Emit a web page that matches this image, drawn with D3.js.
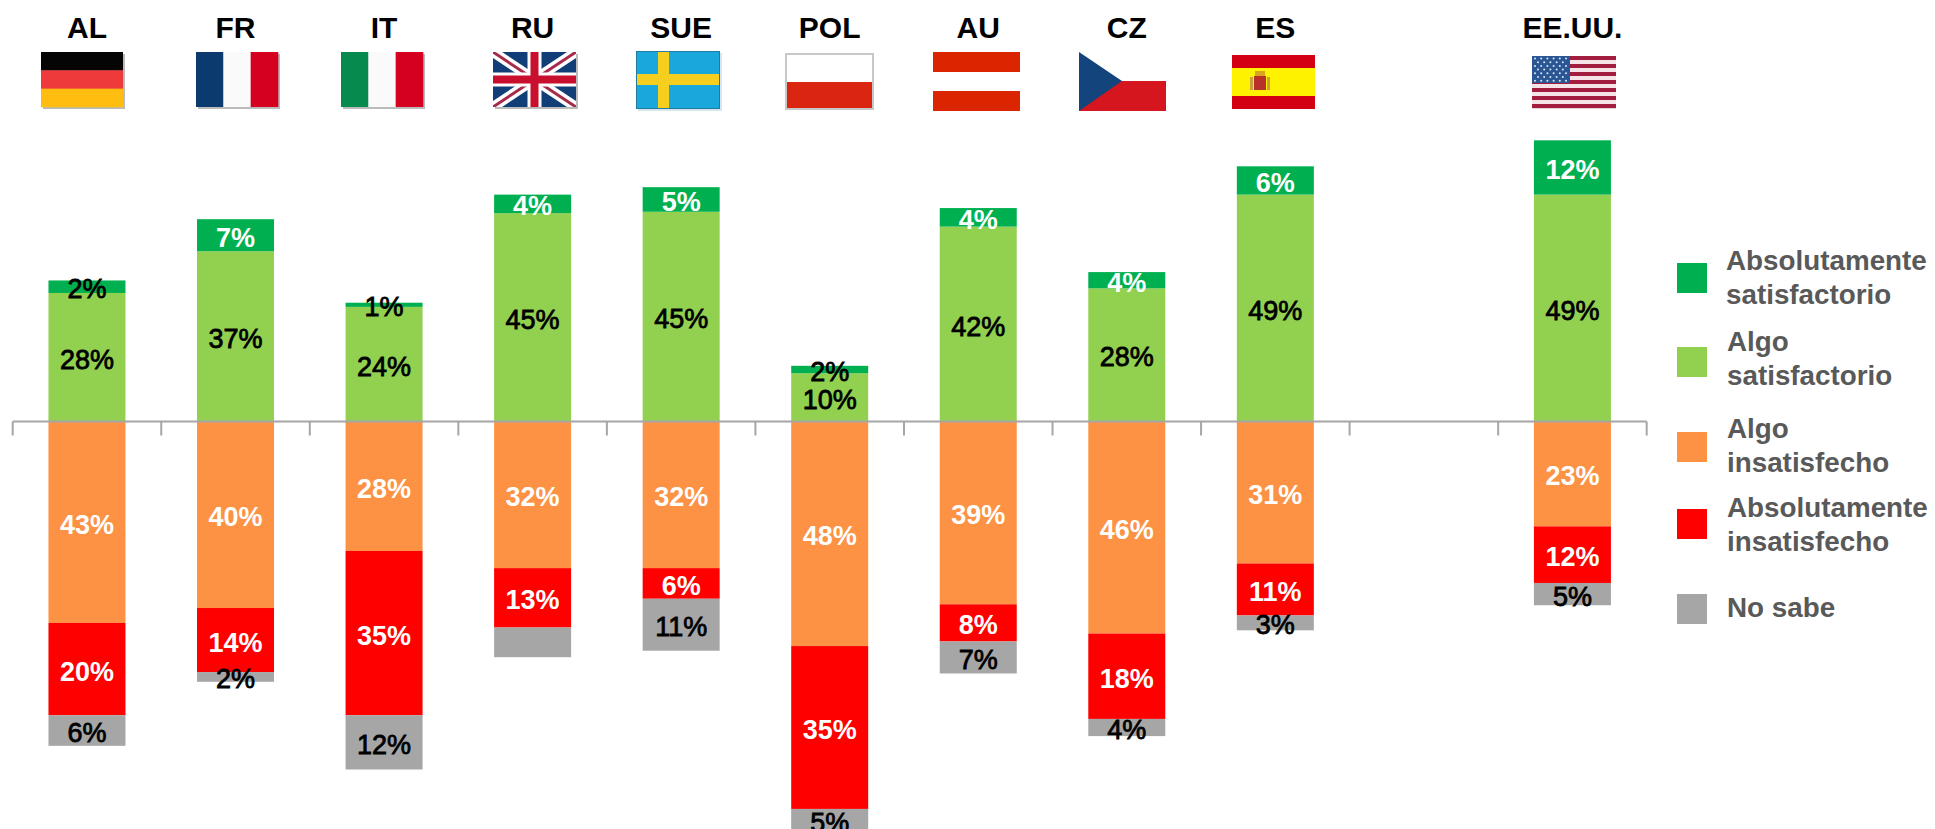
<!DOCTYPE html>
<html><head><meta charset="utf-8">
<script src="https://cdn.jsdelivr.net/npm/d3@7/dist/d3.min.js"></script>
<style>html,body{margin:0;padding:0;background:#fff;overflow:hidden}svg{display:block}text{font-family:"Liberation Sans",Arial,sans-serif}</style>
</head><body><svg id="c" width="1935" height="829"></svg>
<script>
const categories = ["AL","FR","IT","RU","SUE","POL","AU","CZ","ES","","EE.UU."];
const algoSatisfactorio   = [27.7,36.7,24.7,44.9,45.2,10.4,42.0,28.7,48.9,0,48.9];
const absSatisfactorio    = [2.7,6.9,0.9,4.0,5.3,1.6,4.0,3.5,6.1,0,11.7];
const algoInsatisfecho    = [43.4,40.2,27.9,31.6,31.6,48.4,39.4,45.7,30.6,0,22.6];
const absInsatisfecho     = [19.9,13.8,35.4,12.8,6.6,35.1,8.0,18.4,11.2,0,12.2];
const noSabe              = [6.6,2.1,11.7,6.4,11.2,5,6.9,3.7,3.2,0,4.8];
const lblAlgoSat = ["28%","37%","24%","45%","45%","10%","42%","28%","49%",null,"49%"];
const lblAbsSat  = ["2%","7%","1%","4%","5%","2%","4%","4%","6%",null,"12%"];
const lblAlgoIns = ["43%","40%","28%","32%","32%","48%","39%","46%","31%",null,"23%"];
const lblAbsIns  = ["20%","14%","35%","13%","6%","35%","8%","18%","11%",null,"12%"];
const lblNoSabe  = ["6%","2%","12%",null,"11%","5%","7%","4%","3%",null,"5%"];
const legendLabels = [["Absolutamente","satisfactorio"],["Algo","satisfactorio"],["Algo","insatisfecho"],["Absolutamente","insatisfecho"],["No sabe"]];

const svg = d3.select("#c");
const x = d3.scaleBand().domain(d3.range(categories.length)).range([12.7,1646.7]);
const y = d3.scaleLinear().domain([0,100]).range([421.5,-42.5]);

const seriesDefs = [
  {key:"as", vals:algoSatisfactorio, labels:lblAlgoSat, fill:"#92D050", lab:()=>"#000"},
  {key:"bs", vals:absSatisfactorio,  labels:lblAbsSat,  fill:"#00B050", lab:(i)=>[0,2,5].includes(i)?"#000":"#fff"},
  {key:"ai", vals:algoInsatisfecho.map(v=>-v), labels:lblAlgoIns, fill:"#FD9244", lab:()=>"#fff"},
  {key:"bi", vals:absInsatisfecho.map(v=>-v),  labels:lblAbsIns,  fill:"#FF0000", lab:()=>"#fff"},
  {key:"ns", vals:noSabe.map(v=>-v), labels:lblNoSabe, fill:"#A6A6A6", lab:()=>"#000"}
];
const table = categories.map((c,i)=>{const r={i};seriesDefs.forEach(s=>r[s.key]=s.vals[i]);return r;});
const stacked = d3.stack().keys(seriesDefs.map(s=>s.key)).offset(d3.stackOffsetDiverging)(table);
const barW = 77;

stacked.forEach((layer,si)=>{
  const def = seriesDefs[si];
  svg.append("g").selectAll("rect").data(layer.filter(d=>d[1]!==d[0])).join("rect")
    .attr("x",d=>x(d.data.i)+x.bandwidth()/2-barW/2)
    .attr("width",barW)
    .attr("y",d=>y(Math.max(d[0],d[1])))
    .attr("height",d=>Math.abs(y(d[0])-y(d[1])))
    .attr("fill",def.fill);
});

// axis
const axis = svg.append("g").attr("stroke","#A6A6A6").attr("stroke-width",2);
axis.append("line").attr("x1",x.range()[0]).attr("x2",x.range()[1]).attr("y1",y(0)).attr("y2",y(0));
axis.selectAll("line.t").data(d3.range(categories.length+1)).join("line").attr("class","t")
  .attr("x1",i=>x.range()[0]+i*x.bandwidth()).attr("x2",i=>x.range()[0]+i*x.bandwidth())
  .attr("y1",y(0)).attr("y2",y(0)+14);

// labels
stacked.forEach((layer,si)=>{
  const def = seriesDefs[si];
  svg.append("g").selectAll("text").data(layer.filter(d=>def.labels[d.data.i])).join("text")
    .attr("x",d=>x(d.data.i)+x.bandwidth()/2)
    .attr("y",d=>y((d[0]+d[1])/2)+11.5)
    .attr("text-anchor","middle")
    .attr("font-size",27)
    .attr("font-weight",(d)=>def.lab(d.data.i)==="#fff"?"bold":"normal")
    .attr("fill",d=>def.lab(d.data.i))
    .attr("stroke",d=>def.lab(d.data.i)==="#000"?"#000":"none")
    .attr("stroke-width",0.8)
    .text(d=>def.labels[d.data.i]);
});

// category titles
svg.append("g").selectAll("text").data(categories.map((c,i)=>({c,i})).filter(d=>d.c)).join("text")
  .attr("x",d=>x(d.i)+x.bandwidth()/2).attr("y",37.5)
  .attr("text-anchor","middle").attr("font-size",30).attr("font-weight","bold").attr("fill","#000")
  .text(d=>d.c);

// legend
const legendFills = ["#00B050","#92D050","#FD9244","#FF0000","#A6A6A6"];
const legendBoxY = [263,347,432,509,594];
const legendBase = [[270,304],[351,385],[438,472],[517,551],[617]];
const legendX = [1726,1727,1727,1727,1727];
legendLabels.forEach((lines,i)=>{
  svg.append("rect").attr("x",1677).attr("y",legendBoxY[i]).attr("width",30).attr("height",30).attr("fill",legendFills[i]);
  lines.forEach((t,j)=>svg.append("text").attr("x",legendX[i]).attr("y",legendBase[i][j])
    .attr("font-size",27.8).attr("font-weight","bold").attr("fill","#595959").text(t));
});

// flags
function box(g,x0,y0,w,h,fill){g.append("rect").attr("x",x0).attr("y",y0).attr("width",w).attr("height",h).attr("fill",fill);}
function shadow(x0,y0,w,h){box(svg,x0+2,y0+2,w,h,"#bbb");}
function hStripes(x0,y0,w,h,cols){cols.forEach((c,i)=>box(svg,x0,y0+i*h/cols.length,w,h/cols.length+0.3,c));}
function vStripes(x0,y0,w,h,cols){cols.forEach((c,i)=>box(svg,x0+i*w/cols.length,y0,w/cols.length+0.3,h,c));}
// Germany
shadow(41,52,82,55); hStripes(41,52,82,55,["#050505","#EE3A3A","#FFBE0F"]);
// France
shadow(196,52,82,55); vStripes(196,52,82,55,["#0B3A6E","#FAFAFA","#D5001F"]);
// Italy
shadow(341,52,82,55); vStripes(341,52,82,55,["#078A4E","#FAFAFA","#D5001F"]);
// UK
(function(){
  const X=493,Y=52,W=83,H=55;
  shadow(X,Y,W,H);
  const defs=svg.append("defs").append("clipPath").attr("id","ukc");
  defs.append("rect").attr("x",X).attr("y",Y).attr("width",W).attr("height",H);
  const g=svg.append("g").attr("clip-path","url(#ukc)");
  box(g,X,Y,W,H,"#123E78");
  const diag=[[X,Y,X+W,Y+H],[X+W,Y,X,Y+H]];
  diag.forEach(d=>g.append("line").attr("x1",d[0]).attr("y1",d[1]).attr("x2",d[2]).attr("y2",d[3]).attr("stroke","#fff").attr("stroke-width",10));
  diag.forEach(d=>g.append("line").attr("x1",d[0]).attr("y1",d[1]).attr("x2",d[2]).attr("y2",d[3]).attr("stroke","#A82A4A").attr("stroke-width",3));
  box(g,X+W/2-7,Y,14,H,"#fff"); box(g,X,Y+H/2-7,W,14,"#fff");
  box(g,X+W/2-4,Y,8,H,"#C8102E"); box(g,X,Y+H/2-4,W,8,"#C8102E");
})();
// Sweden
box(svg,638,53,84,58,"#D6E6EE"); box(svg,636,51,84,58,"#1F7C9E"); box(svg,637,52,82,56,"#1AA7DC"); box(svg,658,52,11,56,"#F5CE1E"); box(svg,637,74,82,11,"#F5CE1E");
// Poland
box(svg,785,53,89,57,"#C8C8C8"); box(svg,787,55,85,27,"#fff"); box(svg,787,82,85,26,"#DA2511");
// Austria
box(svg,933,52,87,59,"#DB2400"); box(svg,933,72,87,19,"#fff");
// Czech
box(svg,1079,52,87,29,"#fff"); box(svg,1079,81,87,30,"#D5161F");
svg.append("path").attr("d","M1079 52L1122 81L1079 111Z").attr("fill","#14447C");
// Spain
box(svg,1232,55,83,54,"#D30013"); box(svg,1232,68,83,28,"#FFF200");
box(svg,1254,76,12,14,"#B8322A"); box(svg,1255,71,10,5,"#D9A520"); box(svg,1250,77,3,13,"#C9A23A"); box(svg,1267,77,3,13,"#C9A23A");
// USA
(function(){
  const X=1532,Y=56,W=84,H=52;
  d3.range(13).forEach(i=>box(svg,X,Y+i*H/13,W,H/13+0.2,i%2?"#F6E3E8":"#A31D3F"));
  box(svg,X,Y,38,27,"#2A5794");
  d3.range(7).forEach(r=>d3.range(r%2?5:6).forEach(c=>svg.append("circle").attr("cx",X+(r%2?6:3)+c*6.2).attr("cy",Y+2.5+r*3.7).attr("r",1).attr("fill","#DDE6F2")));
})();
</script></body></html>
